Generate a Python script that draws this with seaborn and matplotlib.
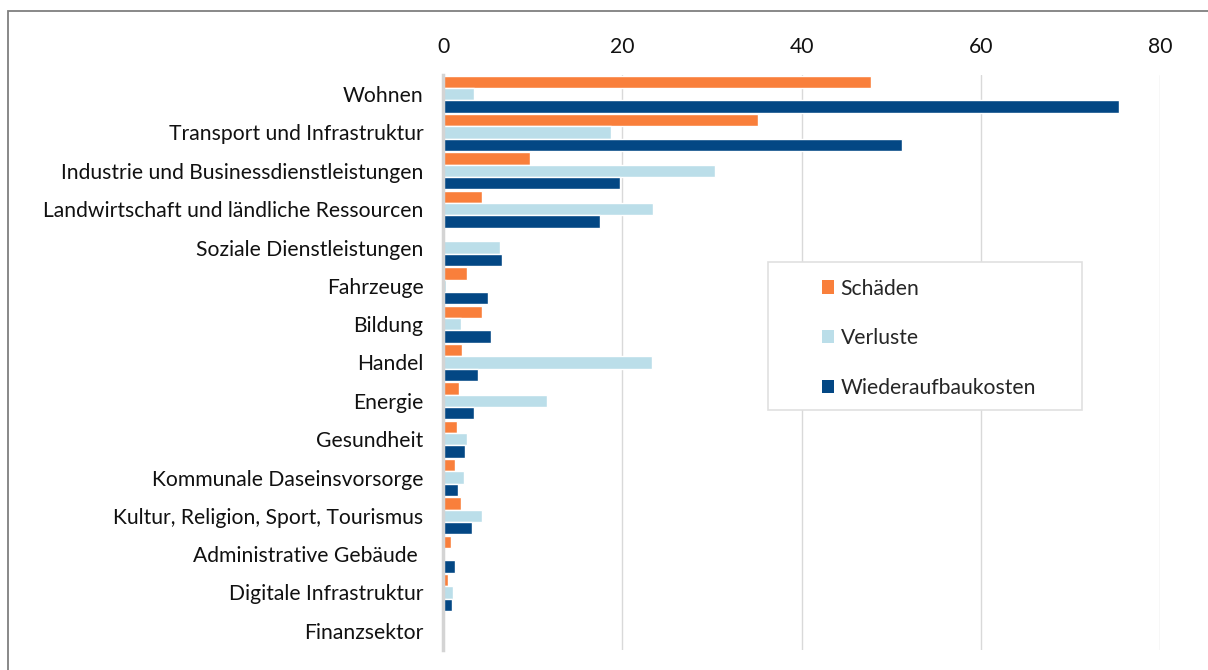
import pandas as pd
import numpy as np
import matplotlib.pyplot as plt
from matplotlib.patches import Rectangle, Patch
import seaborn as sns

# ---- data (values in bn) ----
sectors = ["Wohnen", "Transport und Infrastruktur", "Industrie und Businessdienstleistungen",
           "Landwirtschaft und ländliche Ressourcen", "Soziale Dienstleistungen", "Fahrzeuge",
           "Bildung", "Handel", "Energie", "Gesundheit", "Kommunale Daseinsvorsorge",
           "Kultur, Religion, Sport, Tourismus", "Administrative Gebäude ", "Digitale Infrastruktur",
           "Finanzsektor"]
schaeden = [47.8, 35.1, 9.7, 4.3, 0.2, 2.7, 4.4, 2.1, 1.8, 1.6, 1.3, 2.0, 0.9, 0.6, 0.0]
verluste = [3.5, 18.7, 30.4, 23.4, 6.4, 0.3, 2.0, 23.3, 11.6, 2.7, 2.3, 4.3, 0.0, 1.1, 0.2]
wiederaufbau = [75.4, 51.2, 19.7, 17.5, 6.6, 5.0, 5.4, 3.9, 3.5, 2.5, 1.7, 3.2, 1.3, 1.0, 0.0]
series = ["Schäden", "Verluste", "Wiederaufbaukosten"]
colors = ["#F97F3B", "#BBDEE9", "#034784"]

df = pd.DataFrame({"Sektor": sectors, series[0]: schaeden, series[1]: verluste, series[2]: wiederaufbau})
long = df.melt(id_vars="Sektor", var_name="Art", value_name="Wert")

sns.set_style("white")
plt.rcParams['font.family'] = ['Lato', 'DejaVu Sans']
fs = 15.2

fig = plt.figure(figsize=(12.08, 6.70), dpi=100)
ax = fig.add_axes([443 / 1208, 20 / 670, (1160 - 443) / 1208, (650 - 75) / 670])

sns.barplot(data=long, y="Sektor", x="Wert", hue="Art", orient="h", palette=colors,
            hue_order=series, order=sectors, width=0.96, saturation=1, ax=ax, legend=False)

ax.set_xlim(0, 80)
ax.set_ylim(len(sectors) - 0.5, -0.5)
ax.set_xticks([0, 20, 40, 60, 80])
ax.set_xlabel("")
ax.set_ylabel("")
ax.xaxis.grid(True, color="#d9d9d9", linewidth=1)
ax.set_axisbelow(True)
ax.tick_params(axis="x", top=True, labeltop=True, bottom=False, labelbottom=False,
               length=0, pad=13, labelsize=fs, colors="#111111")
ax.tick_params(axis="y", length=0, pad=14, labelsize=fs, colors="#111111")
for s in ["top", "right", "bottom"]:
    ax.spines[s].set_visible(False)
ax.spines["left"].set_color("#d4d4d4")
ax.spines["left"].set_linewidth(2.5)

# legend box
fig.patches.append(Rectangle((768 / 1208, 1 - 410 / 670), (1082 - 768) / 1208, (410 - 262) / 670,
                             transform=fig.transFigure, facecolor="white", edgecolor="#e0e0e0",
                             linewidth=1.2, zorder=5))
handles = [Patch(facecolor=c, edgecolor="none") for c in colors]
fig.legend(handles, series, loc="upper left", bbox_to_anchor=(811 / 1208, 1 - 268 / 670),
           frameon=False, fontsize=fs, handlelength=0.6, handleheight=0.6,
           handletextpad=0.3, labelspacing=1.4, borderpad=0)
fig.legends[0].set_zorder(6)

# outer frame
fig.patches.append(Rectangle((8 / 1208, -0.05), 1.2, 1.05 - 11 / 670, transform=fig.transFigure,
                             facecolor="none", edgecolor="#7f7f7f", linewidth=1.3, zorder=0))

fig.savefig("out.png", dpi=100)
